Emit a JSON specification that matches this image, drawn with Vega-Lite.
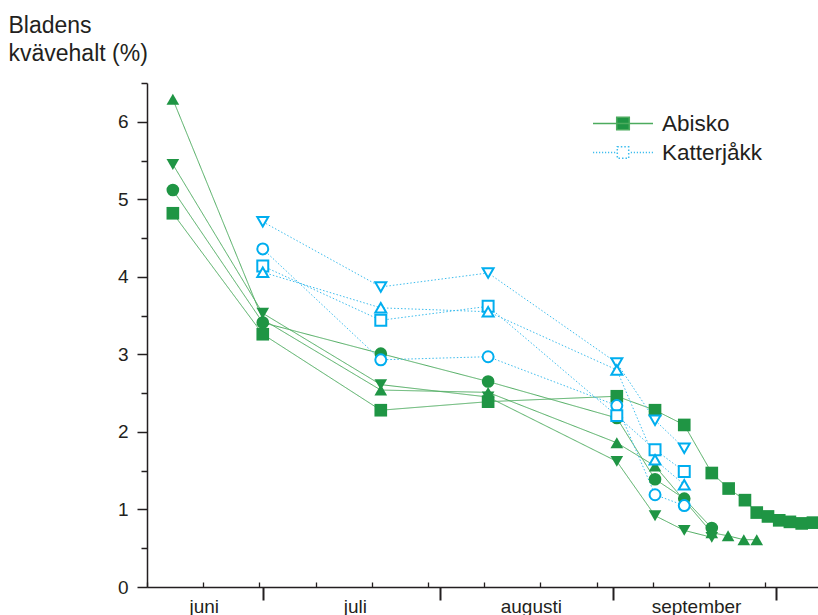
{
  "$schema": "https://vega.github.io/schema/vega-lite/v6.json",
  "width": 671,
  "height": 504,
  "autosize": {"type": "none"},
  "padding": {"left": 147, "top": 83, "right": 0, "bottom": 28},
  "background": "white",
  "config": {"view": {"stroke": null}, "font": "Liberation Sans", "axis": {"grid": false}},
  "data": {
    "values": [
      {"site": "Abisko", "marker": "square", "dag": 4.6, "kvave": 4.82},
      {"site": "Abisko", "marker": "square", "dag": 20.6, "kvave": 3.26},
      {"site": "Abisko", "marker": "square", "dag": 41.6, "kvave": 2.28},
      {"site": "Abisko", "marker": "square", "dag": 60.7, "kvave": 2.39},
      {"site": "Abisko", "marker": "square", "dag": 83.6, "kvave": 2.46},
      {"site": "Abisko", "marker": "square", "dag": 90.4, "kvave": 2.28},
      {"site": "Abisko", "marker": "square", "dag": 95.6, "kvave": 2.09},
      {"site": "Abisko", "marker": "square", "dag": 100.5, "kvave": 1.47},
      {"site": "Abisko", "marker": "square", "dag": 103.5, "kvave": 1.27},
      {"site": "Abisko", "marker": "square", "dag": 106.4, "kvave": 1.12},
      {"site": "Abisko", "marker": "square", "dag": 108.5, "kvave": 0.96},
      {"site": "Abisko", "marker": "square", "dag": 110.5, "kvave": 0.91},
      {"site": "Abisko", "marker": "square", "dag": 112.5, "kvave": 0.86},
      {"site": "Abisko", "marker": "square", "dag": 114.4, "kvave": 0.84},
      {"site": "Abisko", "marker": "square", "dag": 116.5, "kvave": 0.82},
      {"site": "Abisko", "marker": "square", "dag": 118.5, "kvave": 0.83},

      {"site": "Abisko", "marker": "circle", "dag": 4.6, "kvave": 5.12},
      {"site": "Abisko", "marker": "circle", "dag": 20.6, "kvave": 3.41},
      {"site": "Abisko", "marker": "circle", "dag": 41.6, "kvave": 3.01},
      {"site": "Abisko", "marker": "circle", "dag": 60.7, "kvave": 2.65},
      {"site": "Abisko", "marker": "circle", "dag": 83.6, "kvave": 2.18},
      {"site": "Abisko", "marker": "circle", "dag": 90.4, "kvave": 1.39},
      {"site": "Abisko", "marker": "circle", "dag": 95.6, "kvave": 1.14},
      {"site": "Abisko", "marker": "circle", "dag": 100.5, "kvave": 0.76},

      {"site": "Abisko", "marker": "triangle-up", "dag": 4.6, "kvave": 6.29},
      {"site": "Abisko", "marker": "triangle-up", "dag": 20.6, "kvave": 3.45},
      {"site": "Abisko", "marker": "triangle-up", "dag": 41.6, "kvave": 2.54},
      {"site": "Abisko", "marker": "triangle-up", "dag": 60.7, "kvave": 2.51},
      {"site": "Abisko", "marker": "triangle-up", "dag": 83.6, "kvave": 1.86},
      {"site": "Abisko", "marker": "triangle-up", "dag": 90.4, "kvave": 1.56},
      {"site": "Abisko", "marker": "triangle-up", "dag": 100.5, "kvave": 0.7},
      {"site": "Abisko", "marker": "triangle-up", "dag": 103.4, "kvave": 0.66},
      {"site": "Abisko", "marker": "triangle-up", "dag": 106.2, "kvave": 0.61},
      {"site": "Abisko", "marker": "triangle-up", "dag": 108.5, "kvave": 0.61},

      {"site": "Abisko", "marker": "triangle-down", "dag": 4.6, "kvave": 5.45},
      {"site": "Abisko", "marker": "triangle-down", "dag": 20.6, "kvave": 3.53},
      {"site": "Abisko", "marker": "triangle-down", "dag": 41.6, "kvave": 2.61},
      {"site": "Abisko", "marker": "triangle-down", "dag": 60.7, "kvave": 2.45},
      {"site": "Abisko", "marker": "triangle-down", "dag": 83.6, "kvave": 1.62},
      {"site": "Abisko", "marker": "triangle-down", "dag": 90.4, "kvave": 0.92},
      {"site": "Abisko", "marker": "triangle-down", "dag": 95.6, "kvave": 0.73},
      {"site": "Abisko", "marker": "triangle-down", "dag": 100.5, "kvave": 0.64},

      {"site": "Katterjåkk", "marker": "triangle-down", "dag": 20.6, "kvave": 4.71},
      {"site": "Katterjåkk", "marker": "triangle-down", "dag": 41.6, "kvave": 3.87},
      {"site": "Katterjåkk", "marker": "triangle-down", "dag": 60.7, "kvave": 4.05},
      {"site": "Katterjåkk", "marker": "triangle-down", "dag": 83.6, "kvave": 2.89},
      {"site": "Katterjåkk", "marker": "triangle-down", "dag": 90.4, "kvave": 2.15},
      {"site": "Katterjåkk", "marker": "triangle-down", "dag": 95.6, "kvave": 1.79},

      {"site": "Katterjåkk", "marker": "circle", "dag": 20.6, "kvave": 4.36},
      {"site": "Katterjåkk", "marker": "circle", "dag": 41.6, "kvave": 2.93},
      {"site": "Katterjåkk", "marker": "circle", "dag": 60.7, "kvave": 2.97},
      {"site": "Katterjåkk", "marker": "circle", "dag": 83.6, "kvave": 2.34},
      {"site": "Katterjåkk", "marker": "circle", "dag": 90.4, "kvave": 1.19},
      {"site": "Katterjåkk", "marker": "circle", "dag": 95.6, "kvave": 1.05},

      {"site": "Katterjåkk", "marker": "square", "dag": 20.6, "kvave": 4.14},
      {"site": "Katterjåkk", "marker": "square", "dag": 41.6, "kvave": 3.44},
      {"site": "Katterjåkk", "marker": "square", "dag": 60.7, "kvave": 3.62},
      {"site": "Katterjåkk", "marker": "square", "dag": 83.6, "kvave": 2.21},
      {"site": "Katterjåkk", "marker": "square", "dag": 90.4, "kvave": 1.77},
      {"site": "Katterjåkk", "marker": "square", "dag": 95.6, "kvave": 1.49},

      {"site": "Katterjåkk", "marker": "triangle-up", "dag": 20.6, "kvave": 4.06},
      {"site": "Katterjåkk", "marker": "triangle-up", "dag": 41.6, "kvave": 3.6},
      {"site": "Katterjåkk", "marker": "triangle-up", "dag": 60.7, "kvave": 3.55},
      {"site": "Katterjåkk", "marker": "triangle-up", "dag": 83.6, "kvave": 2.8},
      {"site": "Katterjåkk", "marker": "triangle-up", "dag": 90.4, "kvave": 1.64},
      {"site": "Katterjåkk", "marker": "triangle-up", "dag": 95.6, "kvave": 1.32}
    ]
  },
  "encoding": {
    "x": {
      "field": "dag",
      "type": "quantitative",
      "scale": {"domain": [0, 119.4], "nice": false, "zero": false},
      "axis": {
        "title": null,
        "values": [0, 10, 20, 30, 40, 50, 60, 70, 80, 90, 100, 110, 20.6, 52.1, 83, 112, 10.1, 37, 68.3, 97.7],
        "labelExpr": "datum.value === 10.1 ? 'juni' : datum.value === 37 ? 'juli' : datum.value === 68.3 ? 'augusti' : datum.value === 97.7 ? 'september' : ''",
        "tickSize": 13,
        "tickOpacity": {
          "condition": {"test": "datum.value === 20.6 || datum.value === 52.1 || datum.value === 83 || datum.value === 112", "value": 1},
          "value": 0
        },
        "grid": true,
        "gridDash": [0, 499, 5, 2000],
        "gridColor": "#231f20",
        "gridWidth": 1.3,
        "gridOpacity": {
          "condition": {"test": "datum.value % 10 === 0", "value": 1},
          "value": 0
        },
        "tickWidth": 2,
        "tickColor": "#231f20",
        "domainColor": "#231f20",
        "domainWidth": 1.5,
        "labelFontSize": 19,
        "labelColor": "#231f20",
        "labelFont": "Liberation Sans",
        "labelPadding": -3,
        "labelOverlap": false,
        "labelBound": false,
        "labelFlush": false
      }
    },
    "y": {
      "field": "kvave",
      "type": "quantitative",
      "scale": {"domain": [0, 6.5], "nice": false},
      "axis": {
        "title": ["Bladens", "kvävehalt (%)"],
        "titleAngle": 0,
        "titleAlign": "left",
        "titleBaseline": "alphabetic",
        "titleX": -139,
        "titleY": -51,
        "titleFontSize": 23,
        "titleFontWeight": "normal",
        "titleColor": "#231f20",
        "titleFont": "Liberation Sans",
        "titleLineHeight": 28.5,
        "values": [0, 0.5, 1, 1.5, 2, 2.5, 3, 3.5, 4, 4.5, 5, 5.5, 6, 6.5],
        "labelExpr": "datum.value % 1 === 0 ? format(datum.value, 'd') : ''",
        "tickSize": {"condition": {"test": "datum.value % 1 === 0", "value": 10}, "value": 6},
        "tickWidth": 1.5,
        "tickColor": "#231f20",
        "domainColor": "#231f20",
        "domainWidth": 1.5,
        "labelFontSize": 19,
        "labelColor": "#231f20",
        "labelFont": "Liberation Sans",
        "labelPadding": 9,
        "labelOverlap": false,
        "labelBound": false
      }
    }
  },
  "layer": [
    {
      "mark": {"type": "line", "strokeWidth": 1},
      "encoding": {
        "color": {
          "field": "site",
          "type": "nominal",
          "scale": {"domain": ["Abisko", "Katterjåkk"], "range": ["#4cab5e", "#3dbdee"]},
          "legend": {
            "title": null,
            "orient": "none",
            "legendX": 445,
            "legendY": 26,
            "padding": 0,
            "symbolType": "M-1,0H1",
            "symbolSize": 3600,
            "symbolStrokeWidth": 1.5,
            "clipHeight": 29,
            "rowPadding": 0,
            "labelFontSize": 22.5,
            "labelColor": "#231f20",
            "labelFont": "Liberation Sans",
            "labelOffset": 8,
            "labelLimit": 0,
            "encode": {
              "symbols": {
                "update": {
                  "shape": {"signal": "datum.value === 'Abisko' ? 'M-1,0H1M-0.21,-0.21H0.21V0.21H-0.21Z' : 'M-1,0h0.04M-0.9,0h0.04M-0.8,0h0.04M-0.7,0h0.04M-0.6,0h0.04M-0.5,0h0.04M-0.4,0h0.04M-0.3,0h0.04M0.26,0h0.04M0.36,0h0.04M0.46,0h0.04M0.56,0h0.04M0.66,0h0.04M0.76,0h0.04M0.86,0h0.04M0.96,0h0.04M-0.19,-0.19H0.19V0.19H-0.19Z'"},
                  "fill": {"signal": "datum.value === 'Abisko' ? '#1f9544' : '#ffffff'"},
                  "stroke": {"signal": "datum.value === 'Abisko' ? '#4cab5e' : '#00aeef'"},
                  "fillOpacity": {"value": 1},
                  "strokeOpacity": {"value": 1}
                }
              }
            }
          }
        },
        "strokeDash": {
          "field": "site",
          "type": "nominal",
          "scale": {"domain": ["Abisko", "Katterjåkk"], "range": [[1, 0], [1.5, 2]]},
          "legend": null
        },
        "detail": [{"field": "site"}, {"field": "marker"}]
      }
    },
    {
      "transform": [{"filter": "datum.site === 'Abisko'"}],
      "mark": {"type": "point", "filled": true, "color": "#1f9544", "size": 160, "opacity": 1},
      "encoding": {
        "shape": {
          "field": "marker",
          "type": "nominal",
          "scale": {"domain": ["square", "circle", "triangle-up", "triangle-down"], "range": ["square", "circle", "triangle-up", "triangle-down"]},
          "legend": null
        }
      }
    },
    {
      "transform": [{"filter": "datum.site === 'Katterjåkk'"}],
      "mark": {"type": "point", "filled": true, "fill": "#ffffff", "stroke": "#00aeef", "strokeWidth": 2, "size": 120, "opacity": 1},
      "encoding": {
        "shape": {
          "field": "marker",
          "type": "nominal",
          "scale": {"domain": ["square", "circle", "triangle-up", "triangle-down"], "range": ["square", "circle", "triangle-up", "triangle-down"]},
          "legend": null
        }
      }
    }
  ]
}
